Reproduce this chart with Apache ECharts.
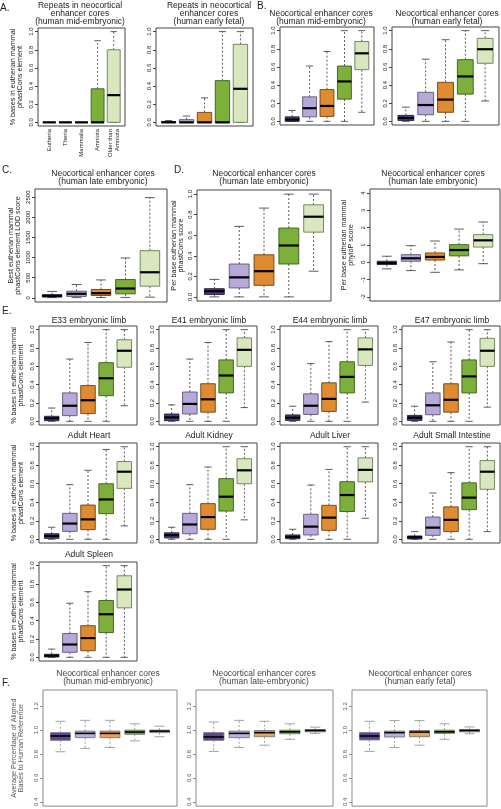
<!DOCTYPE html>
<html><head><meta charset="utf-8">
<script src="https://cdn.jsdelivr.net/npm/echarts@6/dist/echarts.min.js"></script>
<style>html,body{margin:0;padding:0;background:#fff}#c{width:501px;height:809px}</style>
</head><body><div id="c"></div>
<script>
// ---- data: each box = [min, Q1, median, Q3, max] ----
const repeatCats = ['Eutheria','Theria','Mammalia','Amniota','Older than\nAmniota'];
const A_mid   = [[0,0,0,0,0],[0,0,0,0,0],[0,0,0,0,0],[0,0,0,0.37,0.90],[0,0,0.30,0.80,1.0]];
const A_fetal = [[0,0,0,0.01,0.02],[0,0,0,0.03,0.07],[0,0,0,0.11,0.27],[0,0,0,0.46,1.0],[0,0,0.37,0.86,1.0]];
const B_mid   = [[0,0,0.02,0.05,0.12],[0,0.05,0.145,0.27,0.61],[0,0.055,0.17,0.35,0.77],[0,0.245,0.44,0.61,1.0],[0.10,0.57,0.75,0.88,1.0]];
const B_fetal = [[0,0.01,0.037,0.066,0.157],[0,0.073,0.18,0.32,0.685],[0,0.10,0.24,0.43,0.90],[0,0.30,0.495,0.68,1.0],[0.225,0.64,0.795,0.915,1.0]];
const C_lod   = [[5,20,45,80,160],[5,35,100,165,330],[8,58,115,206,445],[10,99,231,454,990],[16,289,635,1172,2490]];
const D_phast = [[0,0.023,0.055,0.08,0.17],[0,0.087,0.19,0.32,0.686],[0,0.113,0.25,0.41,0.864],[0,0.32,0.50,0.67,1.0],[0.25,0.63,0.78,0.896,1.0]];
const D_phylop= [[-0.38,-0.13,-0.04,0.06,0.35],[-0.48,0.06,0.23,0.44,0.96],[-0.58,0.13,0.31,0.54,1.23],[-0.44,0.37,0.71,1.02,1.92],[-0.08,0.88,1.27,1.60,2.33]];
const E33     = [[0,0.007,0.033,0.055,0.145],[0,0.062,0.17,0.31,0.68],[0,0.084,0.23,0.39,0.86],[0,0.28,0.47,0.64,1.0],[0.17,0.59,0.77,0.89,1.0]];
const E41     = [[0,0.007,0.043,0.08,0.18],[0,0.08,0.19,0.32,0.68],[0,0.10,0.24,0.41,0.86],[0,0.31,0.50,0.67,1.0],[0.15,0.60,0.78,0.91,1.0]];
const E44     = [[0,0.01,0.04,0.07,0.165],[0,0.075,0.17,0.30,0.63],[0,0.108,0.245,0.42,0.87],[0,0.31,0.485,0.65,1.0],[0.21,0.61,0.785,0.91,1.0]];
const E47     = [[0,0.01,0.04,0.065,0.165],[0,0.072,0.175,0.31,0.65],[0,0.10,0.235,0.41,0.865],[0,0.31,0.49,0.67,1.0],[0.155,0.60,0.77,0.905,1.0]];
const Heart   = [[0,0.01,0.036,0.06,0.13],[0,0.086,0.17,0.28,0.59],[0,0.104,0.215,0.37,0.745],[0,0.277,0.43,0.60,0.97],[0.145,0.55,0.73,0.84,1.0]];
const Kidney  = [[0,0.015,0.045,0.07,0.13],[0,0.06,0.16,0.28,0.59],[0,0.108,0.24,0.385,0.78],[0,0.305,0.46,0.655,1.0],[0.21,0.60,0.745,0.87,1.0]];
const Liver   = [[0,0.007,0.025,0.047,0.108],[0,0.047,0.137,0.27,0.586],[0,0.097,0.234,0.367,0.755],[0,0.30,0.478,0.622,1.0],[0.227,0.62,0.75,0.88,1.0]];
const SmallInt= [[0,0.004,0.022,0.036,0.083],[0,0.043,0.126,0.24,0.50],[0,0.083,0.21,0.35,0.72],[0,0.32,0.45,0.61,1.0],[0.083,0.54,0.73,0.85,1.0]];
const Spleen  = [[0,0.004,0.018,0.033,0.09],[0,0.055,0.14,0.26,0.59],[0,0.072,0.21,0.345,0.716],[0,0.27,0.47,0.62,1.0],[0,0.54,0.74,0.89,1.0]];
const F_mid   = [[0.819,0.915,0.951,0.979,1.074],[0.847,0.937,0.973,0.992,1.082],[0.855,0.937,0.973,0.992,1.082],[0.91,0.965,0.984,1.0,1.053],[0.945,0.979,0.992,1.0,1.033]];
const F_late  = [[0.822,0.915,0.943,0.979,1.068],[0.855,0.937,0.973,0.992,1.082],[0.874,0.945,0.979,0.997,1.074],[0.923,0.97,0.986,1.0,1.053],[0.973,0.986,0.997,1.005,1.025]];
const F_fetal = [[0.822,0.918,0.951,0.979,1.074],[0.855,0.943,0.979,0.992,1.08],[0.874,0.945,0.984,0.997,1.08],[0.923,0.973,0.986,1.0,1.053],[0.97,0.986,0.997,1.005,1.027]];
const ticks01 = [0,0.2,0.4,0.6,0.8,1.0];
const ticksLOD = [0,500,1000,1500,2000,2500];
const ticksPhyloP = [-2,-1,0,1,2,3,4];
const ticksF = [0.4,0.6,0.8,1.0,1.2];

// ---- styling ----
const FONT = '"Liberation Sans", Arial, sans-serif';
const FILL = ['#4f3a7e','#b6a8d8','#e08b2f','#7cb03a','#d8e7bd'];
const EDGE = ['#2a1f45','#5d5575','#6a3f12','#3d5b1c','#6b7a58'];
const F_FILL = ['#5d4391','#bbb0da','#e9a15c','#78aa3e','#d7e5c1'];

const yName1 = '% bases in eutherian mammal\nphastCons element';
const panels = [
  {d:A_mid, l:38, t:28, w:87, h:98, ymin:-0.04, ymax:1.04, ticks:ticks01, title:'Repeats in neocortical\nenhancer cores\n(human mid-embryonic)', tx:80, ty:2, name:yName1, gap:14, xl:true},
  {d:A_fetal, l:156, t:28, w:97, h:98, ymin:-0.04, ymax:1.04, ticks:ticks01, title:'Repeats in neocortical\nenhancer cores\n(human early fetal)', tx:209, ty:2},
  {d:B_mid, l:280, t:27, w:94, h:98, ymin:-0.04, ymax:1.04, ticks:ticks01, title:'Neocortical enhancer cores\n(human mid-embryonic)', tx:321, ty:10},
  {d:B_fetal, l:392, t:27, w:107, h:98, ymin:-0.04, ymax:1.04, ticks:ticks01, title:'Neocortical enhancer cores\n(human early fetal)', tx:447, ty:10},
  {d:C_lod, l:35, t:189, w:132, h:113, ymin:-104, ymax:2704, ticks:ticksLOD, title:'Neocortical enhancer cores\n(human late embryonic)', tx:103, ty:170, name:'Best eutherian mammal\nphastCons element LOD score', gap:13, dec:0},
  {d:D_phast, l:197, t:190, w:134, h:111, ymin:-0.04, ymax:1.04, ticks:ticks01, title:'Neocortical enhancer cores\n(human late embryonic)', tx:264, ty:170, name:'Per base eutherian mammal\nphastCons score', gap:12},
  {d:D_phylop, l:370, t:189, w:130, h:112, ymin:-2.24, ymax:4.24, ticks:ticksPhyloP, title:'Neocortical enhancer cores\n(human late embryonic)', tx:433, ty:170, name:'Per base eutherian mammal\nphyloP score', gap:15, dec:0},
  {d:E33, l:39, t:326, w:98, h:99, ymin:-0.04, ymax:1.04, ticks:ticks01, title:'E33 embryonic limb', tx:89, ty:317, name:yName1, gap:14},
  {d:E41, l:159, t:326, w:98, h:99, ymin:-0.04, ymax:1.04, ticks:ticks01, title:'E41 embryonic limb', tx:209, ty:317},
  {d:E44, l:280, t:326, w:98, h:99, ymin:-0.04, ymax:1.04, ticks:ticks01, title:'E44 embryonic limb', tx:330, ty:317},
  {d:E47, l:402, t:326, w:98, h:99, ymin:-0.04, ymax:1.04, ticks:ticks01, title:'E47 embryonic limb', tx:452, ty:317},
  {d:Heart, l:39, t:443, w:98, h:100, ymin:-0.04, ymax:1.04, ticks:ticks01, title:'Adult Heart', tx:89, ty:432, name:yName1, gap:14},
  {d:Kidney, l:159, t:443, w:98, h:100, ymin:-0.04, ymax:1.04, ticks:ticks01, title:'Adult Kidney', tx:209, ty:432},
  {d:Liver, l:280, t:443, w:98, h:100, ymin:-0.04, ymax:1.04, ticks:ticks01, title:'Adult Liver', tx:330, ty:432},
  {d:SmallInt, l:402, t:443, w:98, h:100, ymin:-0.04, ymax:1.04, ticks:ticks01, title:'Adult Small Intestine', tx:452, ty:432},
  {d:Spleen, l:39, t:562, w:98, h:99, ymin:-0.04, ymax:1.04, ticks:ticks01, title:'Adult Spleen', tx:89, ty:551, name:yName1, gap:14},
  {d:F_mid, l:43, t:690, w:134, h:118, ymin:0.364, ymax:1.336, ticks:ticksF, title:'Neocortical enhancer cores\n(human mid-embryonic)', tx:108, ty:670, name:'Average Percentage of Aligned\nBases to Human Reference', gap:18, f:true},
  {d:F_late, l:196, t:690, w:137, h:118, ymin:0.364, ymax:1.336, ticks:ticksF, title:'Neocortical enhancer cores\n(human late-embryonic)', tx:264, ty:670, f:true},
  {d:F_fetal, l:352, t:690, w:135, h:118, ymin:0.364, ymax:1.336, ticks:ticksF, title:'Neocortical enhancer cores\n(human early fetal)', tx:420, ty:670, f:true}
];
const letters = [['A.',0,3],['B.',257,1],['C.',2,165],['D.',174,165],['E.',2,306],['F.',2,678]];

const grid=[], xAxis=[], yAxis=[], series=[], title=[];
panels.forEach((p,i)=>{
  const txt = p.f ? '#555' : '#222';
  grid.push({left:p.l, top:p.t, width:p.w, height:p.h, show:true, borderColor:p.f?'#8a8a8a':'#444', borderWidth:1, backgroundColor:'transparent'});
  xAxis.push({type:'value', gridIndex:i, min:0.3, max:5.7,
    axisLine:{show:false}, axisTick:{show:false}, splitLine:{show:false},
    axisLabel: p.xl ? {show:true, customValues:[1,2,3,4,5], rotate:90, fontSize:6, margin:3, lineHeight:6.5,
      fontFamily:FONT, color:'#222', formatter:v=>repeatCats[Math.round(v)-1]} : {show:false}});
  yAxis.push({type:'value', gridIndex:i, min:p.ymin, max:p.ymax,
    axisLine:{show:false}, splitLine:{show:false},
    axisTick:{show:true, customValues:p.ticks, length:3, lineStyle:{color:p.f?'#8a8a8a':'#444', width:1}},
    axisLabel:{show:true, customValues:p.ticks, rotate:90, fontSize:6, margin:4, fontFamily:FONT, color:txt,
      formatter:v=> p.dec===0 ? String(Math.round(v)) : v.toFixed(1)},
    name:p.name||'', nameLocation:'middle', nameGap:p.gap||10, nameRotate:90,
    nameTextStyle:{fontSize:7.2, lineHeight:7.5, fontFamily:FONT, color:txt}});
  const fill = p.f ? F_FILL : FILL;
  series.push({type:'custom', xAxisIndex:i, yAxisIndex:i, silent:true,
    data:p.d.map((b,k)=>[k+1].concat(b)),
    renderItem:(params, api)=>{
      const x = api.value(0);
      const mn=api.coord([x,api.value(1)]), q1=api.coord([x,api.value(2)]), md=api.coord([x,api.value(3)]),
            q3=api.coord([x,api.value(4)]), mx=api.coord([x,api.value(5)]);
      const hw = api.size([0.4,0])[0], cw = api.size([0.2,0])[0];
      const cx = mn[0];
      const k = params.dataIndex;
      const wc = p.f ? '#8a8a8a' : '#333';
      const dash = {stroke:wc, lineWidth:0.8, lineDash:[2,2], fill:null};
      const solid = {stroke:wc, lineWidth:0.8, fill:null};
      return {type:'group', children:[
        {type:'line', shape:{x1:cx,y1:q3[1],x2:cx,y2:mx[1]}, style:dash},
        {type:'line', shape:{x1:cx,y1:q1[1],x2:cx,y2:mn[1]}, style:dash},
        {type:'line', shape:{x1:cx-cw,y1:mx[1],x2:cx+cw,y2:mx[1]}, style:solid},
        {type:'line', shape:{x1:cx-cw,y1:mn[1],x2:cx+cw,y2:mn[1]}, style:solid},
        {type:'rect', shape:{x:cx-hw, y:q3[1], width:2*hw, height:q1[1]-q3[1]},
          style:{fill:fill[k], stroke:p.f?'#777':EDGE[k], lineWidth:0.9}},
        {type:'line', shape:{x1:cx-hw,y1:md[1],x2:cx+hw,y2:md[1]}, style:{stroke:'#000', lineWidth:p.f?1.6:2.2}}
      ]};
    }});
  title.push({text:p.title, left:p.tx, top:p.ty, textAlign:'center', padding:0,
    textStyle:{fontSize:8.5, lineHeight:8, fontWeight:'normal', fontFamily:FONT, color:p.f?'#444':'#222'}});
});
letters.forEach(L=>title.push({text:L[0], left:L[1], top:L[2], padding:0,
  textStyle:{fontSize:10, fontWeight:'normal', fontFamily:FONT, color:'#222'}}));

const chart = echarts.init(document.getElementById('c'), null, {renderer:'canvas'});
chart.setOption({animation:false, backgroundColor:'#fff', title, grid, xAxis, yAxis, series});
</script></body></html>
